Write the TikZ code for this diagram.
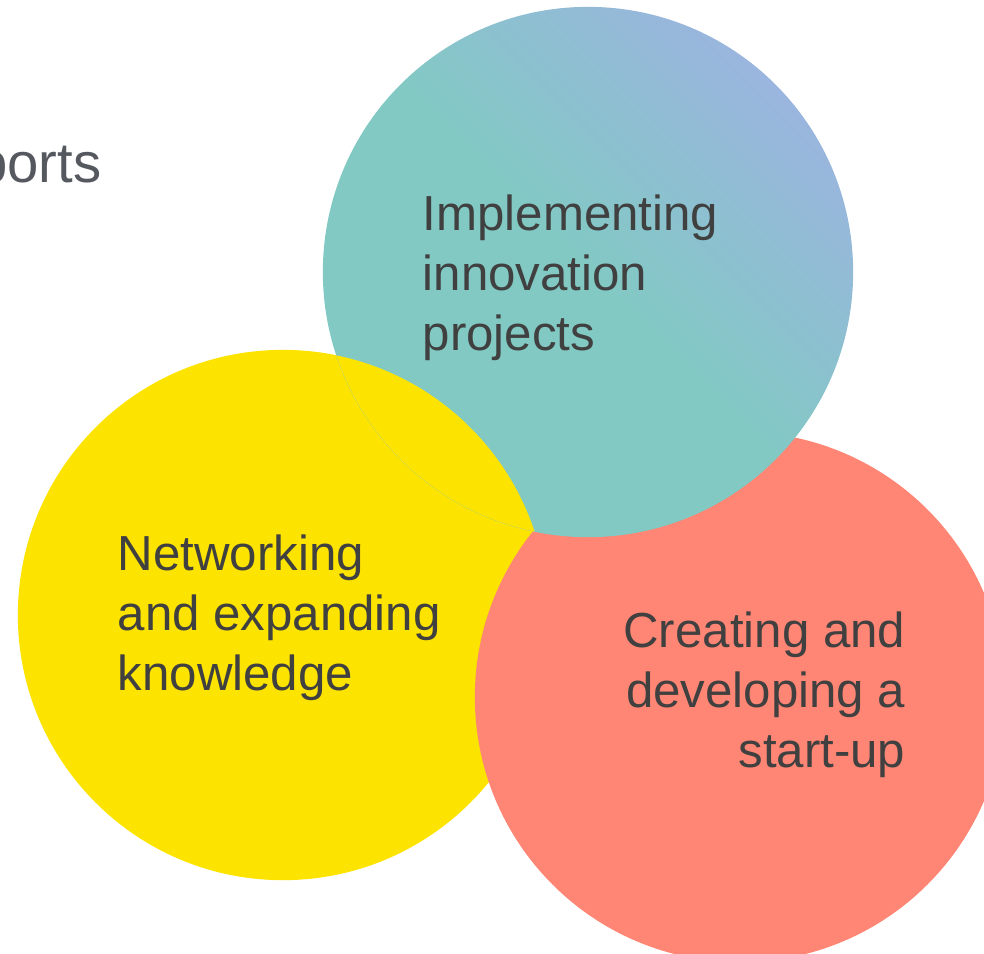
\documentclass[tikz,border=0pt]{standalone}
\usepackage{fontspec}
\setmainfont{Liberation Sans}
\usetikzlibrary{positioning}
\definecolor{tealc}{HTML}{82C9C4}
\definecolor{skyblue}{HTML}{9AB5DE}
\definecolor{sunyellow}{HTML}{FCE300}
\definecolor{salmonc}{HTML}{FF8674}
\definecolor{textgray}{HTML}{404040}
\definecolor{portsgray}{HTML}{55595F}
\begin{document}
\begin{tikzpicture}[x=0.01cm, y=-0.01cm,  disc/.style={    circle,    minimum size=5.3cm,    inner sep=0pt  },  label text/.style={    text=textgray,    font=\fontsize{14}{17.1}\selectfont,    inner sep=0pt  }]
		\useasboundingbox (0,0) rectangle (984,953);
		% Circles
		\node[disc, fill=sunyellow] (network) at (283,615) {};
		\node[disc, fill=salmonc] (startup) at (740,697) {};
		\node[disc, top color=skyblue, bottom color=tealc, middle color=tealc, shading angle=-45] (innovation) at (588,272) {};
		% yellow lies over the teal one
		\begin{scope}
			\clip (innovation.center) circle (265);
			\fill[sunyellow] (network.center) circle (265);
		\end{scope}
		% Labels
		\node[label text, align=left, anchor=north west] (innovlabel) at (422,194) {Implementing\\innovation\\projects};
		\node[label text, align=left, anchor=north west] (networklabel) at (117,534) {Networking\\and expanding\\knowledge};
		\node[label text, align=right, anchor=north east] (startuplabel) at (906,611) {Creating and\\developing a\\start-up};
		\node[text=portsgray, font=\fontsize{16}{19}\selectfont, anchor=base east, inner sep=0pt] (ports) at (102,182) {ports};
	\end{tikzpicture}
\end{document}
